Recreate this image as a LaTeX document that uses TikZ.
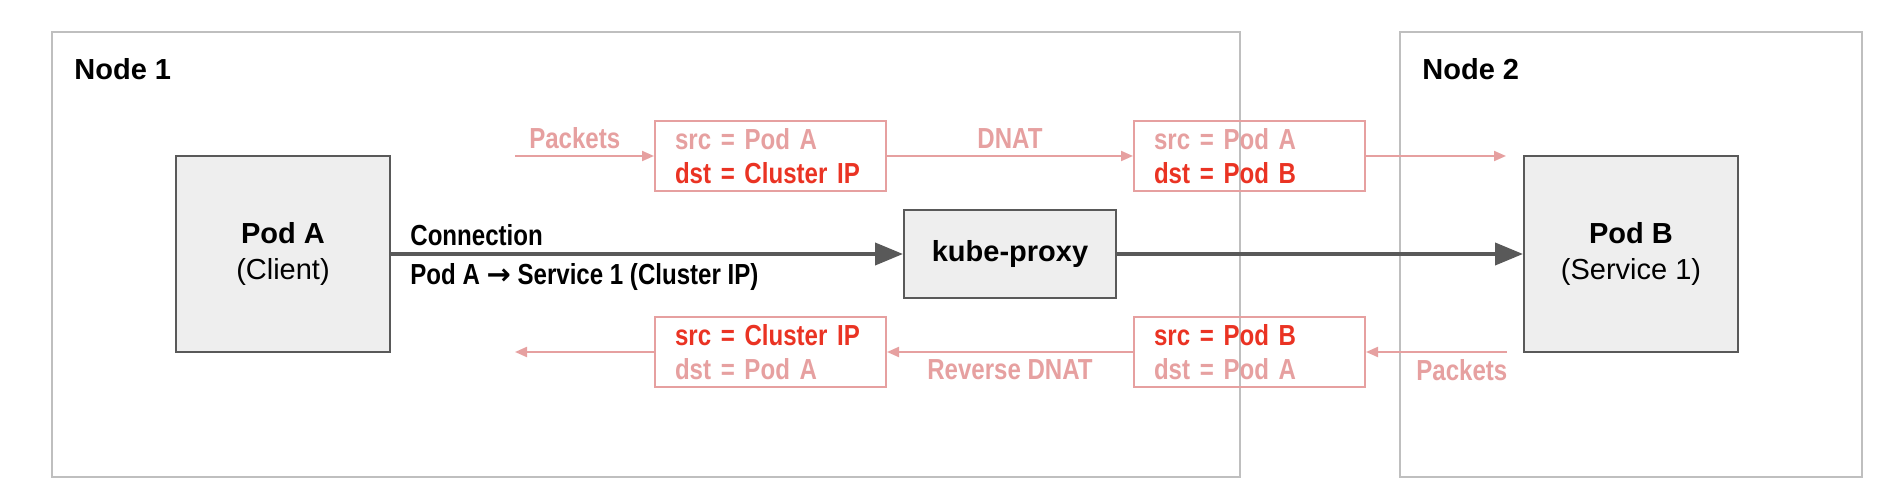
\documentclass[tikz,border=0pt]{standalone}
\usepackage{fontspec}
\setmainfont{Liberation Sans}
\newfontfamily\narrowsans{Liberation Sans}[FakeStretch=0.83]
\newfontfamily\arrowsans{DejaVu Sans}
\usetikzlibrary{arrows.meta}
\definecolor{pktpink}{RGB}{230,160,160}
\definecolor{hdrred}{RGB}{234,51,35}
\definecolor{framegray}{RGB}{191,191,191}
\definecolor{podgray}{RGB}{238,238,238}
\definecolor{darkline}{RGB}{89,89,89}
\newcommand\diafont{\fontsize{14.5}{17}\selectfont}
\tikzset{
  hostbox/.style={draw=framegray, line width=1pt, inner sep=0pt},
  hostlabel/.style={anchor=base west, inner sep=0pt, font=\diafont\bfseries},
  podbox/.style={draw=darkline, fill=podgray, line width=1pt, minimum width=107pt, minimum height=98pt, align=center, font=\fontsize{14.5}{18}\selectfont},
  hdrbox/.style={draw=pktpink, line width=1pt, minimum height=35pt, inner xsep=10pt, text width=95.5pt, align=left, font=\diafont\narrowsans\bfseries, text=pktpink},
  pktarrow/.style={draw=pktpink, line width=1pt, -{Triangle[length=6pt,width=5pt]}},
  connarrow/.style={draw=darkline, line width=2pt, -{Triangle[length=14pt,width=11pt]}},
  pktlabel/.style={font=\diafont\narrowsans\bfseries, text=pktpink},
  connlabel/.style={anchor=base west, inner sep=0pt, font=\diafont\narrowsans\bfseries}
}
\begin{document}
\begin{tikzpicture}[x=0.5pt,y=-0.5pt]
  \useasboundingbox (0,0) rectangle (1896,496);
  % hosts
  \node[hostbox, minimum width=594pt, minimum height=222.5pt] (node1) at (646,254.5) {};
  \node[hostbox, minimum width=231pt, minimum height=222.5pt] (node2) at (1631,254.5) {};
  \node[hostlabel] (node1lbl) at (74,80) {Node 1};
  \node[hostlabel] (node2lbl) at (1422,80) {Node 2};

  \node[podbox] (poda) at (283,254) {\textbf{Pod A}\\(Client)};
  \node[podbox] (podb) at (1631,254) {\textbf{Pod B}\\(Service 1)};
  \node[podbox, minimum width=106pt, minimum height=44pt] (kp) at (1010,254) {\textbf{kube-proxy}};

  % packet headers
  \node[hdrbox] (hdr1) at (770.5,156) {src = Pod A\\\textcolor{hdrred}{dst = Cluster IP}};
  \node[hdrbox] (hdr2) at (1249.5,156) {src = Pod A\\\textcolor{hdrred}{dst = Pod B}};
  \node[hdrbox] (hdr3) at (770.5,352) {\textcolor{hdrred}{src = Cluster IP}\\dst = Pod A};
  \node[hdrbox] (hdr4) at (1249.5,352) {\textcolor{hdrred}{src = Pod B}\\dst = Pod A};

  \coordinate (inA) at (515,156);
  \coordinate (outB) at (1506,156);
  \coordinate (inB) at (1507,352);
  \coordinate (outA) at (515,352);

  \draw[pktarrow] (inA) -- node[pktlabel, above, pos=0.43] (pkt1) {Packets} (hdr1.west);
  \draw[pktarrow] (hdr1.east) -- node[pktlabel, above] (dnat) {DNAT} (hdr2.west);
  \draw[pktarrow] (hdr2.east) -- (outB);
  \draw[pktarrow] (inB) -- node[pktlabel, below, pos=0.32] (pkt2) {Packets} (hdr4.east);
  \draw[pktarrow] (hdr4.west) -- node[pktlabel, below] (rdnat) {Reverse DNAT} (hdr3.east);
  \draw[pktarrow] (hdr3.west) -- (outA);

  % connection
  \draw[connarrow] (poda.east) -- (kp.west);
  \draw[connarrow] (kp.east) -- (podb.west);
  \node[connlabel] (conn1) at (410,246) {Connection};
  \node[connlabel] (conn2) at (410,285) {Pod A {\arrowsans\bfseries →} Service 1 (Cluster IP)};
\end{tikzpicture}
\end{document}
